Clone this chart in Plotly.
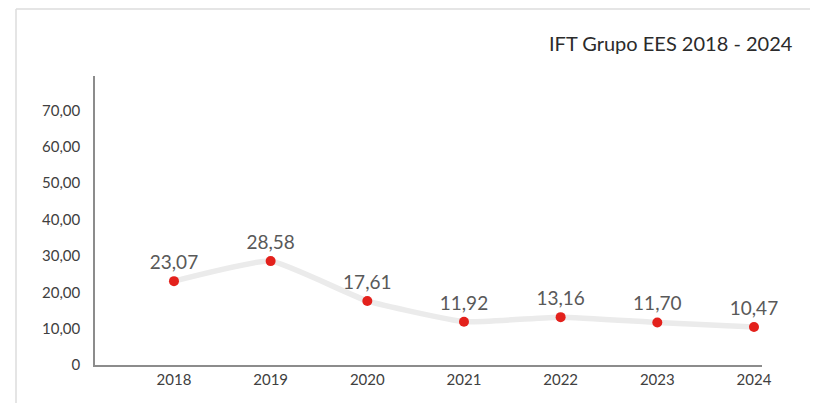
import plotly.graph_objects as go

years = [2018, 2019, 2020, 2021, 2022, 2023, 2024]
values = [23.07, 28.58, 17.61, 11.92, 13.16, 11.70, 10.47]
labels = ["23,07", "28,58", "17,61", "11,92", "13,16", "11,70", "10,47"]
y_ticks = [0, 10, 20, 30, 40, 50, 60, 70]
y_tick_text = ["0", "10,00", "20,00", "30,00", "40,00", "50,00", "60,00", "70,00"]
title = "IFT Grupo EES 2018 - 2024"

# page has an 8px body margin; work in page coordinates and shift
OFF = 8
W, H = 818 - OFF, 403 - OFF
L, R, T, B = 95 - OFF, 818 - 762, 76 - OFF, 403 - 365
pw, ph = W - L - R, H - T - B

def px(x):
    return (x - OFF - L) / pw

def py(y):
    return (H - B - (y - OFF)) / ph

fig = go.Figure()
fig.add_trace(go.Scatter(
    x=years, y=values, mode="lines+markers+text",
    line=dict(color="#ebebeb", width=5.5, shape="spline", smoothing=0.4),
    marker=dict(color="#e3211c", size=10),
    text=labels, textposition="top center",
    textfont=dict(family="Lato", size=19, color="#595959"),
    cliponaxis=False, hoverinfo="skip",
))

fig.update_layout(
    width=W, height=H,
    margin=dict(l=L, r=R, t=T, b=B),
    paper_bgcolor="white", plot_bgcolor="white",
    showlegend=False,
    font=dict(family="Lato", color="#404040"),
    xaxis=dict(range=[2017.183, 2024.083], tickvals=years, ticktext=[str(y) for y in years],
               showgrid=False, zeroline=False, showline=True, linecolor="#8c8c8c", linewidth=1.5,
               ticks="", tickfont=dict(size=15, color="#404040"), fixedrange=True),
    yaxis=dict(range=[0, 79.5], tickvals=y_ticks, ticktext=y_tick_text,
               showgrid=False, zeroline=False, showline=True, linecolor="#8c8c8c", linewidth=1.5,
               ticks="", ticklabelstandoff=10, tickfont=dict(size=15, color="#404040"), fixedrange=True),
    shapes=[
        dict(type="line", xref="paper", yref="paper", x0=px(16), x1=px(818), y0=py(9), y1=py(9),
             line=dict(color="#dcdcdc", width=1.5)),
        dict(type="line", xref="paper", yref="paper", x0=px(16), x1=px(16), y0=py(9), y1=py(403),
             line=dict(color="#dcdcdc", width=1.5)),
    ],
    annotations=[
        dict(text=title, xref="paper", yref="paper", x=px(795), y=py(43), xanchor="right", yanchor="middle",
             showarrow=False, font=dict(family="Lato", size=20, color="#2b2b2b")),
    ],
)

fig.write_html("out.html")
